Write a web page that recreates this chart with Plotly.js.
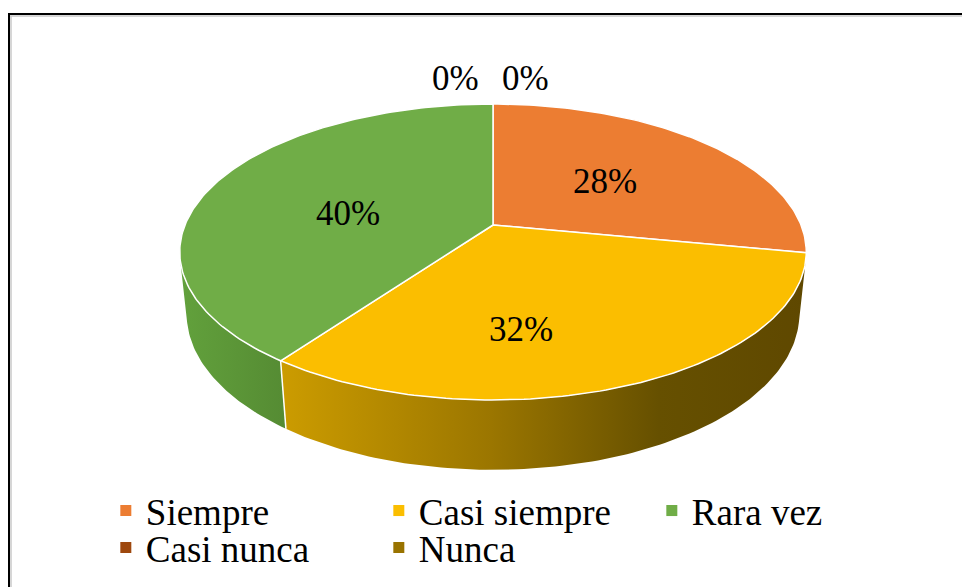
<!DOCTYPE html>
<html>
<head>
<meta charset="utf-8">
<script src="https://cdn.plot.ly/plotly-3.0.1.min.js"></script>
<style>html,body{margin:0;padding:0;background:#fff;}#chart{width:962px;height:587px;}</style>
</head>
<body>
<div id="chart"></div>
<script>
// ---- data ----
const categories = ['Siempre', 'Casi siempre', 'Rara vez', 'Casi nunca', 'Nunca'];
const values = [28, 32, 40, 0, 0];
const topColors = ['#EC7D32', '#FBBE00', '#70AD47', '#9E480E', '#997300'];
const sideColorscales = [
  [[0, '#B8612A'], [1, '#8E4A1E']],
  [[0, '#CC9C00'], [0.4, '#9B7600'], [0.72, '#665000'], [1, '#5F4800']],
  [[0, '#62A13C'], [1, '#558B33']],
  [[0, '#7E390B'], [1, '#6A300A']],
  [[0, '#7A5C00'], [1, '#665000']]
];

// ---- 3D projection of a tilted disk (screen-pixel axes) ----
const CX = 493, CY = 225, S = 308;
const SINA = 0.4645, COSA = 0.8856, K = 0.206, H = 0.229;
function project(thetaDeg, r, y) {
  const t = thetaDeg * Math.PI / 180;
  const x = r * Math.sin(t), z = r * Math.cos(t);
  const u = z * SINA + y * COSA;
  const d = z * COSA - y * SINA;
  const f = 1 + K * d;
  return [CX + S * x / f, CY - S * u / f];
}
const VIS_LO = 180 - Math.acos(K / COSA) * 180 / Math.PI; // side faces visible between these angles
const VIS_HI = 360 - VIS_LO;

const total = values.reduce((a, b) => a + b, 0);
const starts = [], ends = [];
let acc = 0;
values.forEach(v => { starts.push(acc / total * 360); acc += v; ends.push(acc / total * 360); });

function arc(a0, a1, r, y) {
  const pts = [];
  const n = Math.max(2, Math.ceil(Math.abs(a1 - a0)));
  for (let i = 0; i <= n; i++) pts.push(project(a0 + (a1 - a0) * i / n, r, y));
  return pts;
}

const traces = [];
// side faces
values.forEach((v, i) => {
  const a0 = Math.max(starts[i], VIS_LO), a1 = Math.min(ends[i], VIS_HI);
  if (v <= 0 || a1 <= a0) return;
  const pts = arc(a0, a1, 1, 0).concat(arc(a1, a0, 1, -H));
  pts.push(pts[0]);
  traces.push({
    type: 'scatter', mode: 'lines', x: pts.map(p => p[0]), y: pts.map(p => p[1]),
    fill: 'toself', fillcolor: topColors[i],
    fillgradient: {type: 'horizontal', colorscale: sideColorscales[i]},
    line: {width: 0, color: 'rgba(0,0,0,0)'}, hoverinfo: 'skip', showlegend: false
  });
});
// white edges on the side at slice boundaries
ends.forEach((a, i) => {
  if (values[i] <= 0 || a <= VIS_LO || a >= VIS_HI) return;
  const p0 = project(a, 1, 0), p1 = project(a, 1, -H);
  traces.push({type: 'scatter', mode: 'lines', x: [p0[0], p1[0]], y: [p0[1], p1[1]],
    line: {color: '#ffffff', width: 1.5}, hoverinfo: 'skip', showlegend: false});
});
// top faces
values.forEach((v, i) => {
  if (v <= 0) return;
  const pts = [project(0, 0, 0)].concat(arc(starts[i], ends[i], 1, 0));
  pts.push(pts[0]);
  traces.push({
    type: 'scatter', mode: 'lines', x: pts.map(p => p[0]), y: pts.map(p => p[1]),
    fill: 'toself', fillcolor: topColors[i],
    line: {width: 1.5, color: '#ffffff'}, hoverinfo: 'skip', showlegend: false
  });
});
// legend entries
categories.forEach((c, i) => {
  traces.push({
    type: 'scatter', mode: 'markers', x: [null], y: [null], name: c,
    marker: {symbol: 'square', size: 11, color: topColors[i]},
    legend: i < 3 ? 'legend' : 'legend2', hoverinfo: 'skip'
  });
});

// percentage labels
const SERIF = '"Liberation Serif", "Times New Roman", Times, serif';
const labelFont = {family: SERIF, size: 35, color: '#000'};
const shifts = [[0, 0], [-34, -32], [-3, -10], [-38, 0], [32, 0]];
const annotations = values.map((v, i) => {
  const pct = Math.round(v / total * 100) + '%';
  if (v > 0) {
    const p = project((starts[i] + ends[i]) / 2, 0.5, 0);
    return {x: p[0], y: p[1], xref: 'x', yref: 'y', text: pct, showarrow: false,
      font: labelFont, xshift: shifts[i][0], yshift: shifts[i][1]};
  }
  const p = project(starts[i], 1, 0);
  return {x: p[0], y: p[1], xref: 'x', yref: 'y', text: pct, showarrow: false,
    font: labelFont, yanchor: 'bottom', xshift: shifts[i][0], yshift: 4};
});

const legendFont = {family: SERIF, size: 37, color: '#000'};
const layout = {
  width: 962, height: 587,
  margin: {l: 0, r: 0, t: 0, b: 0},
  paper_bgcolor: '#ffffff', plot_bgcolor: '#ffffff',
  font: {family: SERIF},
  xaxis: {range: [0, 962], visible: false, fixedrange: true},
  yaxis: {range: [587, 0], visible: false, fixedrange: true},
  showlegend: true,
  legend: {orientation: 'h', x: 0.11, xanchor: 'left', y: 1 - 511 / 587, yanchor: 'middle',
    font: legendFont, entrywidth: 228, entrywidthmode: 'pixels', bgcolor: 'rgba(0,0,0,0)'},
  legend2: {orientation: 'h', x: 0.11, xanchor: 'left', y: 1 - 548 / 587, yanchor: 'middle',
    font: legendFont, entrywidth: 228, entrywidthmode: 'pixels', bgcolor: 'rgba(0,0,0,0)'},
  annotations: annotations,
  shapes: [
    {type: 'line', xref: 'x', yref: 'y', x0: 8, x1: 962, y0: 14, y1: 14, line: {color: '#000', width: 2}},
    {type: 'line', xref: 'x', yref: 'y', x0: 9, x1: 9, y0: 13, y1: 587, line: {color: '#000', width: 2}},
    {type: 'line', xref: 'x', yref: 'y', x0: 10, x1: 962, y0: 16, y1: 16, line: {color: '#c8c8c8', width: 1.5}},
    {type: 'line', xref: 'x', yref: 'y', x0: 11, x1: 11, y0: 16, y1: 587, line: {color: '#c8c8c8', width: 1.5}}
  ]
};
Plotly.newPlot('chart', traces, layout, {displayModeBar: false, staticPlot: true});
</script>
</body>
</html>
